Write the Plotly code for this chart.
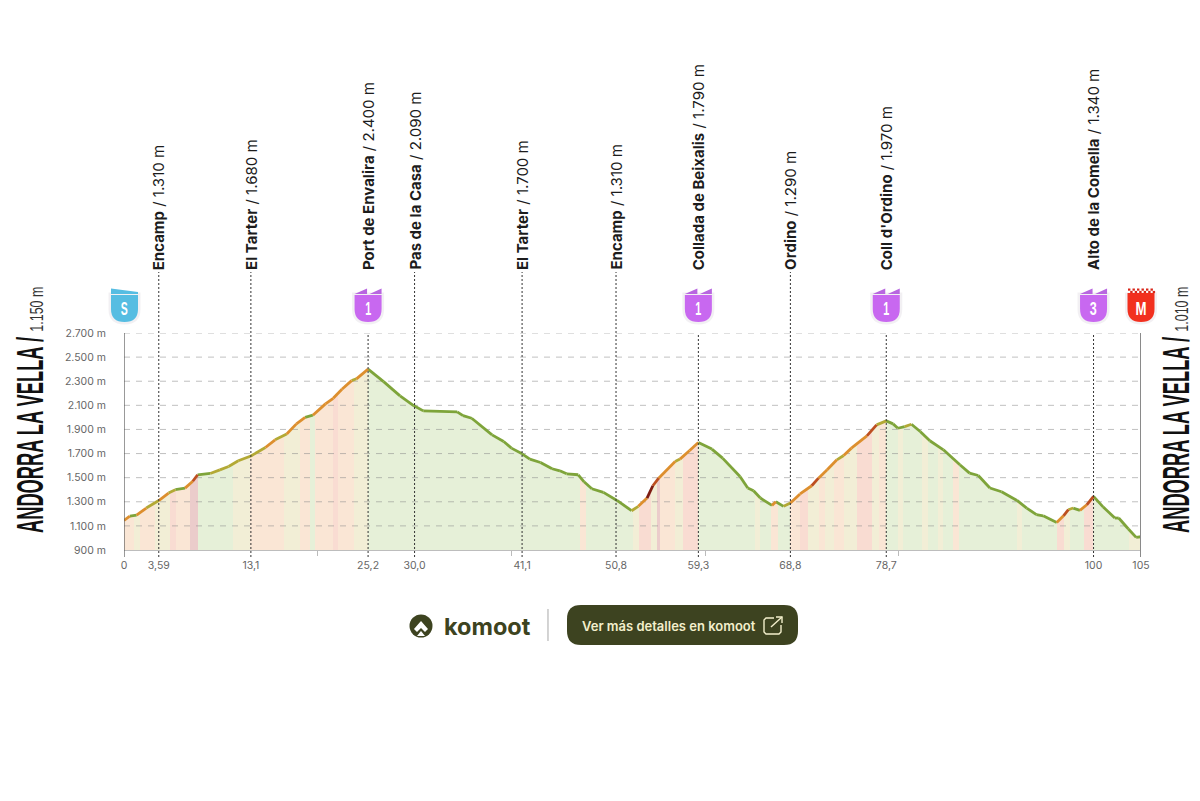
import json
import plotly.graph_objects as go

# profile, km and metres
km = [0, 0.6, 1.3, 2.3, 3.59, 4.6, 5.3, 6.3, 7.1, 7.6, 8.9, 9.9, 10.8, 11.8, 13.1, 14.6, 15.6, 16.8, 17.8, 18.7,
      19.5, 20.8, 21.6, 22.5, 23.5, 24.0, 25.2, 26.8, 28.5, 29.9, 30.9, 34.4, 35.0, 35.9, 38.0, 39.2, 40.0, 41.1,
      41.9, 43.0, 44.2, 45.0, 45.7, 46.9, 47.5, 48.3, 49.5, 50.9, 52.4, 53.1, 54.0, 54.6, 55.2, 56.9, 57.4, 58.4,
      59.3, 60.7, 61.8, 63.6, 64.4, 65.0, 65.7, 66.9, 67.3, 68.1, 68.8, 69.8, 71.0, 71.7, 72.6, 73.6, 74.3, 75.1,
      76.7, 77.7, 78.7, 79.4, 79.9, 80.6, 81.3, 82.2, 83.2, 84.6, 86.3, 87.3, 88.2, 89.4, 90.6, 92.2, 93.2, 94.2,
      94.9, 96.3, 97.0, 97.5, 98.0, 98.7, 99.4, 100.1, 101.1, 102.3, 102.7, 103.7, 104.5, 105]
elev = [1145, 1180, 1190, 1248, 1310, 1372, 1400, 1413, 1470, 1524, 1535, 1565, 1593, 1640, 1680, 1750, 1814, 1863,
        1946, 2000, 2018, 2112, 2158, 2233, 2305, 2320, 2400, 2297, 2178, 2098, 2054, 2046, 2015, 1993, 1855, 1800,
        1745, 1698, 1654, 1626, 1574, 1557, 1532, 1524, 1466, 1408, 1378, 1311, 1226, 1262, 1331, 1433, 1496, 1634,
        1654, 1725, 1792, 1737, 1662, 1510, 1414, 1391, 1331, 1270, 1300, 1262, 1290, 1365, 1433, 1496, 1565, 1648,
        1684, 1745, 1847, 1938, 1971, 1946, 1910, 1924, 1943, 1883, 1806, 1731, 1607, 1538, 1518, 1414, 1383, 1311,
        1248, 1193, 1184, 1129, 1184, 1234, 1248, 1229, 1275, 1345, 1256, 1165, 1165, 1074, 1005, 1010]

# coloured stripes under the profile: start km, end km, gradient class
band_start = [0, 1, 1.6, 3.2, 4.7, 5.4, 6.8, 7.6, 11.3, 13, 16.5, 18.2, 19.2, 19.7, 21.6, 22.1, 23.7, 25.2, 47.1,
              47.7, 52.6, 53.2, 54.4, 55, 55.3, 56.9, 57.7, 59.3, 65.1, 65.7, 66.8, 67.5, 68.8, 69.8, 70.6, 71.8,
              72.4, 73.3, 74.3, 75.7, 77.2, 77.9, 78.7, 79.9, 80.4, 82.4, 83, 84, 84.6, 85.6, 86.2, 92.2, 92.7,
              96.3, 97, 97.7, 99.1, 100, 103.8]
band_end = band_start[1:] + [105]
band_grade = [2, 1, 2, 1, 3, 2, 4, 0, 1, 2, 1, 2, 0, 2, 3, 2, 1, 0, 2, 0, 1, 3, 1, 4, 2, 1, 3, 0, 1, 0, 2, 0, 2, 3,
              1, 2, 1, 2, 1, 3, 1, 2, 0, 1, 0, 1, 0, 1, 0, 2, 0, 1, 0, 3, 1, 0, 3, 0, 1]

way_km = [3.59, 13.1, 25.2, 30.0, 41.1, 50.8, 59.3, 68.8, 78.7, 100.1]
way_name = ['Encamp', 'El Tarter', 'Port de Envalira', 'Pas de la Casa', 'El Tarter', 'Encamp',
            'Collada de Beixalis', 'Ordino', "Coll d'Ordino", 'Alto de la Comella']
way_alt = ['1.310 m', '1.680 m', '2.400 m', '2.090 m', '1.700 m', '1.310 m', '1.790 m', '1.290 m', '1.970 m', '1.340 m']
way_badge = ['', '', '1', '', '', '', '1', '', '1', '3']

x_ticks = [0, 3.59, 13.1, 25.2, 30.0, 41.1, 50.8, 59.3, 68.8, 78.7, 100.1, 105]
x_labels = ['0', '3,59', '13,1', '25,2', '30,0', '41,1', '50,8', '59,3', '68,8', '78,7', '100', '105']
x_minor = [20, 40, 60, 80]
y_ticks = [900, 1100, 1300, 1500, 1700, 1900, 2100, 2300, 2500, 2700]
y_labels = ['900 m', '1.100 m', '1.300 m', '1.500 m', '1.700 m', '1.900 m', '2.100 m', '2.300 m', '2.500 m', '2.700 m']

# the page has an 8 px body margin, so the figure is 8 px smaller each way
W, H = 1192, 793
FONT = 'Inter'
WIDE = 'Liberation Sans'
DARK = '#3d4320'
grade_colors = {0: '#e6f0d8', 1: '#f2eed6', 2: '#fae6d5', 3: '#f9dcd2', 4: '#ebcccb'}


def px(x, y):
    # window pixels to paper coordinates
    return (x - 8) / W, 1 - (y - 8) / H


def poly(points, close=True):
    parts = []
    for i, (x, y) in enumerate(points):
        a, b = px(x, y)
        parts.append(('M' if i == 0 else 'L') + f'{a:.5f},{b:.5f}')
    return ' '.join(parts) + (' Z' if close else '')


def shape(path, fill=None, line=None, width=1):
    return dict(type='path', xref='paper', yref='paper', path=path, fillcolor=fill,
                line=dict(color=line, width=width if line else 0), layer='above')


def rounded(x0, y0, x1, y1, r):
    a0, b0 = px(x0, y0)
    a1, b1 = px(x1, y1)
    rx, ry = r / W, r / H
    return (f'M{a0 + rx:.5f},{b0:.5f} L{a1 - rx:.5f},{b0:.5f} Q{a1:.5f},{b0:.5f} {a1:.5f},{b0 - ry:.5f} '
            f'L{a1:.5f},{b1 + ry:.5f} Q{a1:.5f},{b1:.5f} {a1 - rx:.5f},{b1:.5f} L{a0 + rx:.5f},{b1:.5f} '
            f'Q{a0:.5f},{b1:.5f} {a0:.5f},{b1 + ry:.5f} L{a0:.5f},{b0 - ry:.5f} Q{a0:.5f},{b0:.5f} {a0 + rx:.5f},{b0:.5f} Z')


def shield(cx, color):
    # body of the climb badge, 27 px wide, with a faint glow under it
    a0, b0 = px(cx - 13.5, 295)
    a1, b1 = px(cx + 13.5, 295)
    am, bm = px(cx, 322)
    _, bs = px(cx, 309)
    path = (f'M{a0:.5f},{b0:.5f} L{a1:.5f},{b1:.5f} L{a1:.5f},{bs:.5f} '
            f'Q{a1:.5f},{bm:.5f} {am:.5f},{bm:.5f} Q{a0:.5f},{bm:.5f} {a0:.5f},{bs:.5f} Z')
    return [shape(path, line='rgba(150,130,160,0.12)', width=5), shape(path, fill=color)]


def text(x, y, label, family=FONT, size=12, color='#111111', angle=0, weight=400, xanchor='center'):
    return dict(x=px(x, 0)[0], y=px(0, y)[1], xref='paper', yref='paper', text=label, textangle=angle, showarrow=False,
                xanchor=xanchor, yanchor='middle', font=dict(family=family, size=size, color=color, weight=weight))


fig = go.Figure()

fig.add_trace(go.Bar(x=[(a + b) / 2 for a, b in zip(band_start, band_end)],
                     width=[b - a for a, b in zip(band_start, band_end)],
                     y=[1800] * len(band_start), base=900,
                     marker=dict(color=[grade_colors[g] for g in band_grade], line_width=0)))
# white above the profile, so the stripes only show under it
fig.add_trace(go.Scatter(x=km + [105, 0], y=elev + [2700, 2700], mode='lines', fill='toself',
                         fillcolor='white', line=dict(width=0)))

grid_x, grid_y = [], []
for t in y_ticks[1:]:
    grid_x += [0, 105, None]
    grid_y += [t, t, None]
fig.add_trace(go.Scatter(x=grid_x, y=grid_y, mode='lines',
                         line=dict(color='rgba(140,140,140,0.55)', width=1, dash='6px,6px')))

# line colour follows the slope of each stretch
classes = [(-9999, 25, '#7ea43a'), (25, 55, '#b3a935'), (55, 85, '#dd8f2e'), (85, 110, '#bd4f20'), (110, 9999, '#7d1d12')]
for low, high, color in classes:
    xs, ys = [], []
    for i in range(len(km) - 1):
        slope = (elev[i + 1] - elev[i]) / (km[i + 1] - km[i])
        if low <= slope < high:
            xs += [km[i], km[i + 1], None]
            ys += [elev[i], elev[i + 1], None]
    fig.add_trace(go.Scatter(x=xs, y=ys, mode='lines', line=dict(color=color, width=2.8)))

shapes = []
annotations = []

_, y_top = px(0, 333)
_, y_low = px(0, 557)
_, y_lab = px(0, 272)
for k, name, alt, badge in zip(way_km, way_name, way_alt, way_badge):
    shapes.append(dict(type='line', xref='x', yref='paper', x0=k, x1=k, y0=y_low, y1=y_top if badge else y_lab,
                       line=dict(color='#333333', width=1, dash='2px,2px'), layer='above'))
    annotations.append(dict(x=k, y=y_lab, xref='x', yref='paper', text=f'<b>{name}</b> / {alt}', textangle=-90,
                            showarrow=False, xanchor='center', yanchor='bottom',
                            font=dict(family=FONT, size=15, color='#1c1c1c')))
    if badge:
        # numbered shield over the climb, flags on top
        cx = 124 + k * (1141 - 124) / 105
        shapes += shield(cx, '#c868f0')
        shapes.append(shape(poly([(cx - 13.5, 294), (cx - 1, 288.5), (cx - 1, 294)]), fill='#b866e0'))
        shapes.append(shape(poly([(cx + 1.5, 294), (cx + 13.5, 288.5), (cx + 13.5, 294)]), fill='#b866e0'))
        annotations.append(text(cx, 308, badge, family=WIDE, size=19, color='white', weight=700))

# start and finish badges
shapes += shield(124.5, '#56bde2')
shapes.append(shape(poly([(111, 288.5), (138, 292), (138, 294), (111, 294)]), fill='#56bde2'))
annotations.append(text(124.5, 308, 'S', family=WIDE, size=19, color='white', weight=700))
shapes += shield(1141, '#f2301f')
for col in range(6):
    for row in range(2):
        x0 = 1128 + col * 4.5 + (row % 2) * 2.2
        y0 = 288.5 + row * 2.4
        shapes.append(shape(poly([(x0, y0), (x0 + 2.4, y0), (x0 + 2.4, y0 + 2.2), (x0, y0 + 2.2)]), fill='#d8261a'))
shapes.append(shape(poly([(1127.5, 293), (1154.5, 293), (1154.5, 295), (1127.5, 295)]), fill='#f2301f'))
annotations.append(text(1141, 308, 'M', family=WIDE, size=19, color='white', weight=700))

# axis ends
shapes.append(dict(type='line', xref='x', yref='paper', x0=0, x1=0, y0=y_low, y1=y_top,
                   line=dict(color='#555555', width=1.2), layer='above'))
shapes.append(dict(type='line', xref='x', yref='paper', x0=105, x1=105, y0=y_low, y1=y_top,
                   line=dict(color='#8a8a8a', width=2), layer='above'))

# start / finish titles
for xc, xsub, alt in [(30, 36, '1.150 m'), (1176, 1181, '1.010 m')]:
    annotations.append(text(xc, 435, 'ANDORRA LA VELLA /', family=WIDE, size=36, angle=-90, weight=700))
    annotations.append(text(xsub, 309.5, alt, family=WIDE, size=19, color='#333333', angle=-90))

# komoot footer
a0, b0 = px(409.5, 614.5)
a1, b1 = px(432.5, 637.5)
shapes.append(dict(type='circle', xref='paper', yref='paper', x0=a0, x1=a1, y0=b0, y1=b1, fillcolor=DARK, line_width=0, layer='above'))
shapes.append(shape(poly([(414, 629), (421, 621), (428, 629), (425, 632), (421, 628), (417, 632)]), fill='white'))
shapes.append(shape(poly([(417, 636), (421, 631), (425, 636)]), fill='white'))
annotations.append(text(442, 626, 'komoot', size=23.5, color=DARK, weight=700, xanchor='left'))
shapes.append(shape(poly([(548, 609), (548, 641)], close=False), line='#a8a8a8', width=1))
shapes.append(shape(rounded(567, 605, 798, 645, 14), fill=DARK))
annotations.append(text(580, 626, 'Ver más detalles en komoot', size=13, color='#f3efcc', weight=600, xanchor='left'))
shapes.append(shape(poly([(774, 618), (766, 618), (764, 620), (764, 632), (766, 634), (779, 634), (781, 632), (781, 625)], close=False),
                    line='#f3efcc', width=1.4))
shapes.append(shape(poly([(771, 627), (782, 617)], close=False), line='#f3efcc', width=1.4))
shapes.append(shape(poly([(776, 617), (782, 617), (782, 623)], close=False), line='#f3efcc', width=1.4))

fig.update_layout(
    width=W, height=H, showlegend=False, barmode='overlay', bargap=0,
    paper_bgcolor='white', plot_bgcolor='white',
    margin=dict(l=0, r=0, t=0, b=0, pad=0),
    shapes=shapes, annotations=annotations,
)
fig.update_xaxes(domain=[px(124, 0)[0], px(1141, 0)[0]], automargin=False,
                 range=[0, 105], tickmode='array', tickvals=x_ticks, ticktext=x_labels, ticks='', showgrid=False,
                 zeroline=False, showline=True, linecolor='#bdbdbd', linewidth=1,
                 tickfont=dict(family=FONT, size=10.5, color='#666666'), ticklabelstandoff=5,
                 minor=dict(tickmode='array', tickvals=x_minor, ticks='outside', ticklen=5, tickcolor='#bbbbbb'))
fig.update_yaxes(domain=[px(0, 550)[1], px(0, 333)[1]], automargin=False,
                 range=[900, 2700], tickmode='array', tickvals=y_ticks, ticktext=y_labels, ticks='', showgrid=False,
                 zeroline=False, tickfont=dict(family=FONT, size=10.5, color='#666666'), ticklabelstandoff=17)

# the titles and badges use a very narrow face; squeeze the real text to its drawn length
squeeze = {'ANDORRA LA VELLA /': 196, '1.150 m': 45, '1.010 m': 45, 'S': 7, 'M': 11, '1': 6, '3': 7}
post = """
var lengths = %s;
document.querySelectorAll('.annotation-text').forEach(function (el) {
    var n = lengths[el.textContent];
    if (n) { el.setAttribute('textLength', n); el.setAttribute('lengthAdjust', 'spacingAndGlyphs'); }
});
""" % json.dumps(squeeze)

fig.write_html("out.html", post_script=post)
